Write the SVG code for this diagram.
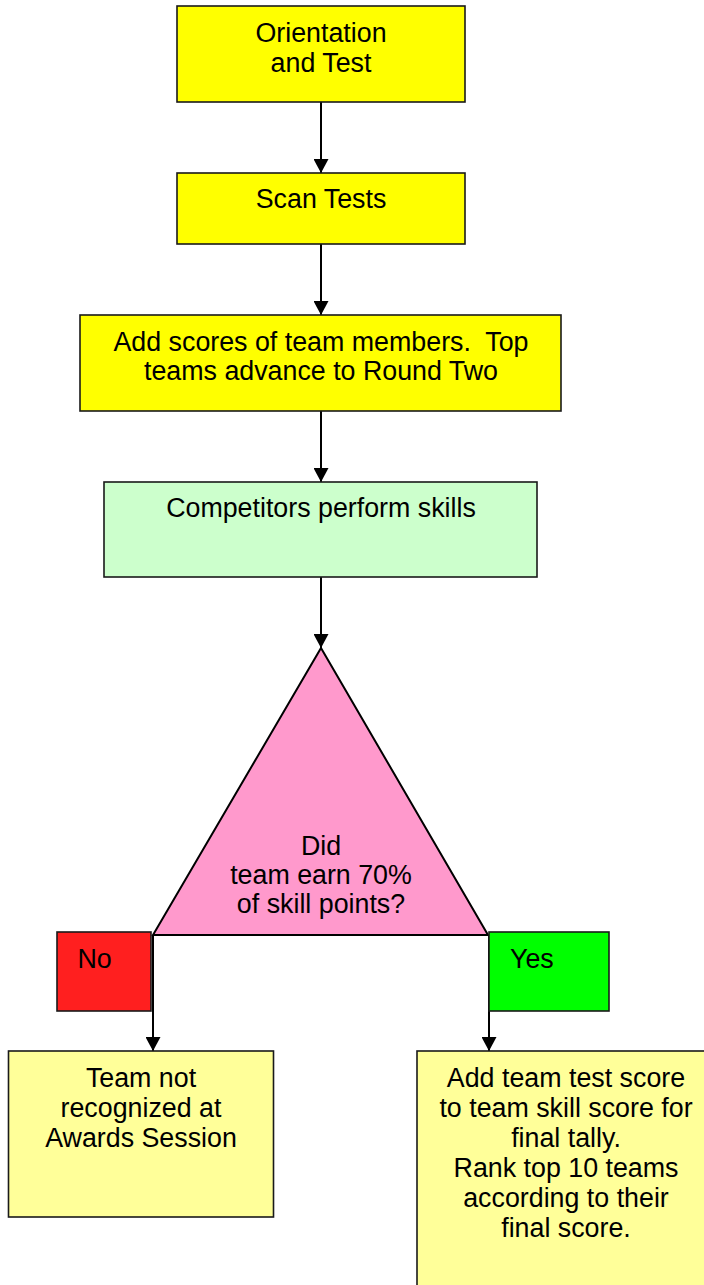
<svg xmlns="http://www.w3.org/2000/svg" width="704" height="1285" viewBox="0 0 704 1285">
<style>
.box{stroke:#1a1a1a;stroke-width:1.6}
.t{font-family:"Liberation Sans",Arial,sans-serif;font-size:26.8px;fill:#000;text-anchor:middle}
.tl{font-family:"Liberation Sans",Arial,sans-serif;font-size:26.8px;fill:#000}
.c{stroke:#000;stroke-width:2;fill:none;marker-end:url(#ah)}
</style>
<defs>
<marker id="ah" markerWidth="15" markerHeight="15" refX="14" refY="7.5" orient="auto" markerUnits="userSpaceOnUse" viewBox="0 0 15 15">
<path d="M0,0 L14,7.5 L0,15 Z" fill="#000"/>
</marker>
</defs>
<g id="connectors">
<line class="c" x1="321" y1="102" x2="321" y2="173"/>
<line class="c" x1="321" y1="244" x2="321" y2="315"/>
<line class="c" x1="321" y1="411" x2="321" y2="482"/>
<line class="c" x1="321" y1="577" x2="321" y2="648"/>
<line class="c" x1="153" y1="935" x2="153" y2="1051"/>
<line class="c" x1="489" y1="935" x2="489" y2="1051"/>
</g>
<g id="n1">
<rect class="box" x="177" y="6" width="288" height="96" fill="#FFFF00"/>
<text class="t" x="321" y="42">Orientation</text>
<text class="t" x="321" y="72">and Test</text>
</g>
<g id="n2">
<rect class="box" x="177" y="173" width="288" height="71" fill="#FFFF00"/>
<text class="t" x="321" y="208">Scan Tests</text>
</g>
<g id="n3">
<rect class="box" x="80" y="315" width="481" height="96" fill="#FFFF00"/>
<text class="t" x="321" y="351" xml:space="preserve">Add scores of team members.  Top</text>
<text class="t" x="321" y="380">teams advance to Round Two</text>
</g>
<g id="n4">
<rect class="box" x="104" y="482" width="433" height="95" fill="#CCFFCC"/>
<text class="t" x="321" y="517">Competitors perform skills</text>
</g>
<g id="n5">
<polygon points="321,648 488,935 153,935" fill="#FF99CC" stroke="#000" stroke-width="2"/>
<text class="t" x="321" y="855">Did</text>
<text class="t" x="321" y="884">team earn 70%</text>
<text class="t" x="321" y="913">of skill points?</text>
</g>
<g id="n6">
<rect class="box" x="57" y="932" width="94" height="79" fill="#FF1F1F"/>
<text class="tl" x="77.5" y="968">No</text>
</g>
<g id="n7">
<rect class="box" x="489" y="932" width="120" height="79" fill="#00FF00"/>
<text class="tl" x="510" y="968">Yes</text>
</g>
<g id="n8">
<rect class="box" x="8.5" y="1051" width="265" height="166" fill="#FFFF99"/>
<text class="t" x="141" y="1087">Team not</text>
<text class="t" x="141" y="1117">recognized at</text>
<text class="t" x="141" y="1147">Awards Session</text>
</g>
<g id="n9">
<rect class="box" x="417" y="1051" width="300" height="260" fill="#FFFF99"/>
<text class="t" x="566" y="1087">Add team test score</text>
<text class="t" x="566" y="1117">to team skill score for</text>
<text class="t" x="566" y="1147">final tally.</text>
<text class="t" x="566" y="1177">Rank top 10 teams</text>
<text class="t" x="566" y="1207">according to their</text>
<text class="t" x="566" y="1237">final score.</text>
</g>
</svg>
